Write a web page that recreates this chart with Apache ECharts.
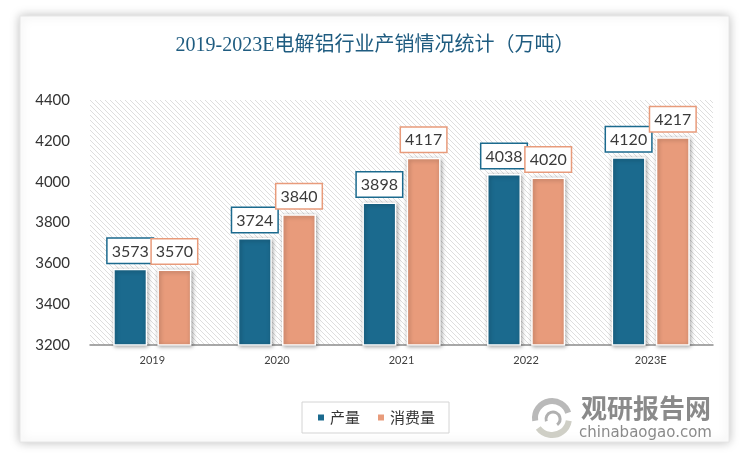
<!DOCTYPE html>
<html>
<head>
<meta charset="utf-8">
<script src="https://cdn.jsdelivr.net/npm/echarts@6/dist/echarts.min.js"></script>
<style>
html,body{margin:0;padding:0;background:#fff;}
#c{width:750px;height:460px;}
</style>
</head>
<body>
<div id="c"></div>
<script>
const categories = ['2019', '2020', '2021', '2022', '2023E'];
const production = [3573, 3724, 3898, 4038, 4120];
const consumption = [3570, 3840, 4117, 4020, 4217];
const seriesNames = ['产量', '消费量'];
const titleText = '2019-2023E电解铝行业产销情况统计（万吨）';
const yMin = 3200, yMax = 4400, yInterval = 200;

const colorProd = '#1B6A8E';
const colorCons = '#E89B7B';

// hatch pattern for plot background
const pc = document.createElement('canvas');
pc.width = 5; pc.height = 5;
const px = pc.getContext('2d');
px.fillStyle = '#ffffff';
px.fillRect(0, 0, 5, 5);
px.strokeStyle = '#dedede';
px.lineWidth = 1;
px.beginPath();
px.moveTo(-1, -1); px.lineTo(6, 6);
px.moveTo(-1, 4); px.lineTo(1, 6);
px.moveTo(4, -1); px.lineTo(6, 1);
px.stroke();

const chart = echarts.init(document.getElementById('c'), null, {renderer: 'canvas'});

function labelCfg(color) {
  return {
    show: true,
    position: 'top',
    distance: 6,
    color: '#3a3a3a',
    fontSize: 16,
    fontFamily: 'Lato, "Liberation Sans", sans-serif',
    backgroundColor: '#ffffff',
    borderColor: color,
    borderWidth: 1.5,
    padding: [3, 4, 2, 4],
    lineHeight: 19
  };
}

const option = {
  backgroundColor: 'transparent',
  animation: false,
  title: {
    text: titleText,
    left: 'center',
    top: 31,
    textStyle: {
      color: '#1F5C80',
      fontSize: 20,
      fontWeight: 'normal',
      fontFamily: '"Liberation Serif", "Noto Sans CJK SC", serif'
    }
  },
  graphic: [
    {
      type: 'rect', z: -10, silent: true,
      shape: {x: 20, y: 16, width: 709, height: 426},
      style: {fill: '#ffffff', stroke: '#e6e6e6', lineWidth: 1,
        shadowColor: 'rgba(0,0,0,0.25)', shadowBlur: 10, shadowOffsetX: 0, shadowOffsetY: 0}
    },
    {
      type: 'arc', silent: true, z: 10,
      shape: {cx: 552, cy: 418, r: 17, startAngle: Math.PI * 0.95, endAngle: Math.PI * 1.9},
      style: {stroke: '#b9b9b9', lineWidth: 6, fill: null}
    },
    {
      type: 'arc', silent: true, z: 10,
      shape: {cx: 552, cy: 418, r: 17, startAngle: Math.PI * 0.05, endAngle: Math.PI * 0.8},
      style: {stroke: '#cfcfc6', lineWidth: 6, fill: null}
    },
    {
      type: 'arc', silent: true, z: 10,
      shape: {cx: 553, cy: 419, r: 7, startAngle: Math.PI * 0.9, endAngle: Math.PI * 2.3},
      style: {stroke: '#b0b0b0', lineWidth: 3, fill: null}
    },
    {
      type: 'text', silent: true, z: 10,
      left: 581, top: 395,
      style: {text: '观研报告网', fill: '#8a8a8a', fontSize: 26, fontWeight: 'bold',
        fontFamily: '"Noto Sans CJK SC", sans-serif'}
    },
    {
      type: 'text', silent: true, z: 10,
      left: 579, top: 426,
      style: {text: 'chinabaogao.com', fill: '#8a8a8a', fontSize: 15,
        fontFamily: '"DejaVu Sans", sans-serif', letterSpacing: 0.5}
    }
  ],
  legend: {
    data: seriesNames,
    left: 302,
    top: 402,
    width: 145,
    borderColor: '#d4d4d4',
    borderWidth: 1,
    padding: [8, 14, 8, 14],
    itemGap: 16,
    itemWidth: 8,
    itemHeight: 8,
    icon: 'rect',
    textStyle: {
      color: '#333',
      fontSize: 15,
      fontFamily: '"Noto Sans CJK SC", sans-serif'
    }
  },
  grid: {
    left: 90,
    right: 37,
    top: 100,
    bottom: 115,
    show: true,
    borderWidth: 0,
    backgroundColor: {image: pc, repeat: 'repeat'}
  },
  xAxis: {
    type: 'category',
    data: categories,
    axisLine: {lineStyle: {color: '#8c8c8c', width: 1.5}},
    axisTick: {show: false},
    axisLabel: {color: '#404040', fontSize: 11, margin: 10,
      fontFamily: 'Lato, "Liberation Sans", sans-serif'}
  },
  yAxis: {
    type: 'value',
    min: yMin,
    max: yMax,
    interval: yInterval,
    axisLine: {show: false},
    axisTick: {show: false},
    splitLine: {show: false},
    axisLabel: {color: '#333', fontSize: 15, margin: 20,
      formatter: function (v) { return String(v); },
      fontFamily: 'Lato, "Liberation Sans", sans-serif'}
  },
  series: [
    {
      name: seriesNames[0],
      type: 'bar',
      data: production,
      barWidth: 34,
      barGap: '30%',
      itemStyle: {color: colorProd, borderColor: '#ffffff', borderWidth: 1.5,
        shadowColor: 'rgba(0,0,0,0.35)', shadowBlur: 4, shadowOffsetX: 1, shadowOffsetY: 1},
      label: labelCfg(colorProd)
    },
    {
      name: seriesNames[1],
      type: 'bar',
      data: consumption,
      barWidth: 34,
      itemStyle: {color: colorCons, borderColor: '#ffffff', borderWidth: 1.5,
        shadowColor: 'rgba(0,0,0,0.35)', shadowBlur: 4, shadowOffsetX: 1, shadowOffsetY: 1},
      label: labelCfg(colorCons)
    }
  ]
};
chart.setOption(option);
</script>
</body>
</html>
